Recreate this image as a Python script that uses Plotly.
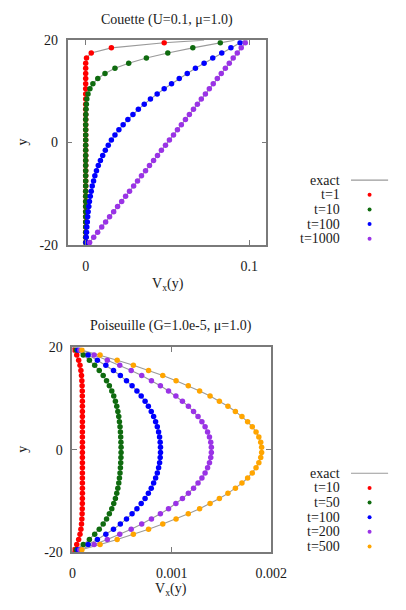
import plotly.graph_objects as go

# ---------------- data ----------------
y_nodes = [19.5, 18.5, 17.5, 16.5, 15.5, 14.5, 13.5, 12.5, 11.5, 10.5,
           9.5, 8.5, 7.5, 6.5, 5.5, 4.5, 3.5, 2.5, 1.5, 0.5,
           -0.5, -1.5, -2.5, -3.5, -4.5, -5.5, -6.5, -7.5, -8.5, -9.5,
           -10.5, -11.5, -12.5, -13.5, -14.5, -15.5, -16.5, -17.5, -18.5, -19.5]
y_walls = [20, -20]

# Couette (U=0.1, mu=1.0)
couette_labels = ["t=1", "t=10", "t=100", "t=1000"]
couette_t1 = [0.0480, 0.0157, 0.0034, 0.0005, 0.0, 0.0, 0.0, 0.0, 0.0, 0.0,
              0.0, 0.0, 0.0, 0.0, 0.0, 0.0, 0.0, 0.0, 0.0, 0.0,
              0.0, 0.0, 0.0, 0.0, 0.0, 0.0, 0.0, 0.0, 0.0, 0.0,
              0.0, 0.0, 0.0, 0.0, 0.0, 0.0, 0.0, 0.0, 0.0, 0.0]
couette_t10 = [0.0823, 0.0655, 0.0502, 0.0371, 0.0263, 0.0179, 0.0118, 0.0074, 0.0044, 0.0026,
               0.0014, 0.0007, 0.0004, 0.0002, 0.0001, 0.0, 0.0, 0.0, 0.0, 0.0,
               0.0, 0.0, 0.0, 0.0, 0.0, 0.0, 0.0, 0.0, 0.0, 0.0,
               0.0, 0.0, 0.0, 0.0, 0.0, 0.0, 0.0, 0.0, 0.0, 0.0]
couette_t100 = [0.0944, 0.0888, 0.0832, 0.0777, 0.0724, 0.0671, 0.0621, 0.0572, 0.0525, 0.0480,
                0.0437, 0.0396, 0.0358, 0.0322, 0.0289, 0.0258, 0.0229, 0.0203, 0.0179, 0.0157,
                0.0138, 0.0120, 0.0104, 0.0090, 0.0077, 0.0066, 0.0056, 0.0048, 0.0040, 0.0034,
                0.0028, 0.0023, 0.0019, 0.0015, 0.0012, 0.0010, 0.0007, 0.0005, 0.0003, 0.0002]
couette_t1000 = [0.0976, 0.0951, 0.0927, 0.0902, 0.0878, 0.0854, 0.0829, 0.0805, 0.0780, 0.0756,
                 0.0732, 0.0707, 0.0683, 0.0659, 0.0634, 0.0610, 0.0585, 0.0561, 0.0537, 0.0512,
                 0.0488, 0.0463, 0.0439, 0.0415, 0.0390, 0.0366, 0.0341, 0.0317, 0.0293, 0.0268,
                 0.0244, 0.0220, 0.0195, 0.0171, 0.0146, 0.0122, 0.0098, 0.0073, 0.0049, 0.0024]
couette_exact_top = [0.0724, 0.0911, 0.0972, 0.0988]      # exact value at y=20
couette_exact_bottom = [0.0, 0.0, 0.0001, 0.0012]         # exact value at y=-20

# Poiseuille (G=1.0e-5, mu=1.0)
pois_labels = ["t=10", "t=50", "t=100", "t=200", "t=500"]
pois_t10 = [1.66e-5, 4.32e-5, 6.25e-5, 7.60e-5, 8.51e-5, 9.11e-5, 9.48e-5, 9.73e-5, 9.86e-5, 9.93e-5,
            9.97e-5, 9.99e-5, 1.0e-4, 1.0e-4, 1.0e-4, 1.0e-4, 1.0e-4, 1.0e-4, 1.0e-4, 1.0e-4,
            1.0e-4, 1.0e-4, 1.0e-4, 1.0e-4, 1.0e-4, 1.0e-4, 1.0e-4, 1.0e-4, 9.99e-5, 9.97e-5,
            9.93e-5, 9.86e-5, 9.73e-5, 9.48e-5, 9.11e-5, 8.51e-5, 7.60e-5, 6.25e-5, 4.32e-5, 1.66e-5]
pois_t50 = [3.87e-5, 1.088e-4, 1.705e-4, 2.238e-4, 2.696e-4, 3.094e-4, 3.432e-4, 3.715e-4, 3.959e-4, 4.156e-4,
            4.323e-4, 4.460e-4, 4.569e-4, 4.662e-4, 4.730e-4, 4.788e-4, 4.827e-4, 4.857e-4, 4.879e-4, 4.893e-4,
            4.893e-4, 4.879e-4, 4.857e-4, 4.827e-4, 4.788e-4, 4.730e-4, 4.662e-4, 4.569e-4, 4.460e-4, 4.323e-4,
            4.156e-4, 3.959e-4, 3.715e-4, 3.432e-4, 3.094e-4, 2.696e-4, 2.238e-4, 1.705e-4, 1.088e-4, 3.87e-5]
pois_t100 = [5.5e-5, 1.58e-4, 2.51e-4, 3.36e-4, 4.13e-4, 4.82e-4, 5.44e-4, 6.00e-4, 6.49e-4, 6.92e-4,
             7.31e-4, 7.64e-4, 7.93e-4, 8.17e-4, 8.37e-4, 8.54e-4, 8.67e-4, 8.77e-4, 8.83e-4, 8.86e-4,
             8.86e-4, 8.83e-4, 8.77e-4, 8.67e-4, 8.54e-4, 8.37e-4, 8.17e-4, 7.93e-4, 7.64e-4, 7.31e-4,
             6.92e-4, 6.49e-4, 6.00e-4, 5.44e-4, 4.82e-4, 4.13e-4, 3.36e-4, 2.51e-4, 1.58e-4, 5.5e-5]
pois_t200 = [7.5e-5, 2.18e-4, 3.51e-4, 4.76e-4, 5.91e-4, 6.97e-4, 7.95e-4, 8.85e-4, 9.67e-4, 1.041e-3,
             1.107e-3, 1.167e-3, 1.219e-3, 1.264e-3, 1.303e-3, 1.335e-3, 1.360e-3, 1.379e-3, 1.392e-3, 1.398e-3,
             1.398e-3, 1.392e-3, 1.379e-3, 1.360e-3, 1.335e-3, 1.303e-3, 1.264e-3, 1.219e-3, 1.167e-3, 1.107e-3,
             1.041e-3, 9.67e-4, 8.85e-4, 7.95e-4, 6.97e-4, 5.91e-4, 4.76e-4, 3.51e-4, 2.18e-4, 7.5e-5]
pois_t500 = [9.5e-5, 2.78e-4, 4.50e-4, 6.13e-4, 7.66e-4, 9.09e-4, 1.043e-3, 1.166e-3, 1.280e-3, 1.385e-3,
             1.479e-3, 1.565e-3, 1.640e-3, 1.706e-3, 1.763e-3, 1.810e-3, 1.848e-3, 1.876e-3, 1.895e-3, 1.904e-3,
             1.904e-3, 1.895e-3, 1.876e-3, 1.848e-3, 1.810e-3, 1.763e-3, 1.706e-3, 1.640e-3, 1.565e-3, 1.479e-3,
             1.385e-3, 1.280e-3, 1.166e-3, 1.043e-3, 9.09e-4, 7.66e-4, 6.13e-4, 4.50e-4, 2.78e-4, 9.5e-5]
pois_exact_wall = [0.0, 0.0, 0.0, 0.0, 0.0]

couette_ticks_x = [0, 0.1]
couette_ticktext_x = ["0", "0.1"]
pois_ticks_x = [0, 0.001, 0.002]
pois_ticktext_x = ["0", "0.001", "0.002"]
ticks_y = [-20, 0, 20]
ticktext_y = ["-20", "0", "20"]

# ---------------- style ----------------
W, H = 406, 610
FONT = "Liberation Serif, Times New Roman, serif"
FS = 14
TXT = "#1a1a1a"
FRAME = "#7a7a7a"
EXACT = "#9a9a9a"
couette_colors = ["#ff0000", "#0f6b0f", "#0000ff", "#9a33e6"]
pois_colors = ["#ff0000", "#0f6b0f", "#0000ff", "#9a33e6", "#ffa500"]


def px(x):
    return x / W


def py(y):
    return 1 - y / H


fig = go.Figure()

# Couette
couette_series = [couette_t1, couette_t10, couette_t100, couette_t1000]
for i, s in enumerate(couette_series):
    fig.add_trace(go.Scatter(
        x=[couette_exact_top[i]] + s + [couette_exact_bottom[i]],
        y=[y_walls[0]] + y_nodes + [y_walls[1]],
        mode="lines", line=dict(color=EXACT, width=1.1),
        xaxis="x", yaxis="y", name="exact", hoverinfo="skip"))
for i, s in enumerate(couette_series):
    fig.add_trace(go.Scatter(
        x=s, y=y_nodes, mode="markers",
        marker=dict(color=couette_colors[i], size=5.5, line=dict(width=0)),
        xaxis="x", yaxis="y", name=couette_labels[i]))

# Poiseuille
pois_series = [pois_t10, pois_t50, pois_t100, pois_t200, pois_t500]
for i, s in enumerate(pois_series):
    fig.add_trace(go.Scatter(
        x=[pois_exact_wall[i]] + s + [pois_exact_wall[i]],
        y=[y_walls[0]] + y_nodes + [y_walls[1]],
        mode="lines", line=dict(color=EXACT, width=1.1),
        xaxis="x2", yaxis="y2", name="exact", hoverinfo="skip"))
for i, s in enumerate(pois_series):
    fig.add_trace(go.Scatter(
        x=s, y=y_nodes, mode="markers",
        marker=dict(color=pois_colors[i], size=5.5, line=dict(width=0)),
        xaxis="x2", yaxis="y2", name=pois_labels[i]))

axis_common = dict(
    showline=True, linecolor=FRAME, linewidth=1.6, mirror="allticks",
    ticks="inside", ticklen=5, tickwidth=1, tickcolor=FRAME,
    showgrid=False, zeroline=False,
    tickfont=dict(family=FONT, size=FS, color=TXT),
    fixedrange=True,
)

fig.update_layout(
    width=W, height=H,
    margin=dict(l=0, r=0, t=0, b=0),
    paper_bgcolor="white", plot_bgcolor="white",
    showlegend=False,
    xaxis=dict(axis_common, domain=[px(67), px(276)], range=[-0.011, 0.1105],
               tickvals=couette_ticks_x, ticktext=couette_ticktext_x, anchor="y",
               ticklabelstandoff=7),
    yaxis=dict(axis_common, domain=[py(244), py(34)], range=[-20, 20],
               tickvals=ticks_y, ticktext=ticktext_y, anchor="x",
               ticklabelstandoff=5),
    xaxis2=dict(axis_common, domain=[px(72), px(281)], range=[0, 0.002],
                tickvals=pois_ticks_x, ticktext=pois_ticktext_x, anchor="y2",
                ticklabelstandoff=7),
    yaxis2=dict(axis_common, domain=[py(559), py(349)], range=[-20, 20],
                tickvals=ticks_y, ticktext=ticktext_y, anchor="x2",
                ticklabelstandoff=5),
)

annotations = []
shapes = []


def text(x, y, s, anchor="center", angle=0):
    annotations.append(dict(
        x=px(x), y=py(y), xref="paper", yref="paper", text=s, showarrow=False,
        xanchor=anchor, yanchor="middle", textangle=angle,
        font=dict(family=FONT, size=FS, color=TXT)))


# titles and axis labels
text(171, 13, "Couette (U=0.1, \u03bc=1.0)")
text(173, 284, "V<sub>x</sub>(y)")
text(20, 139, "y", angle=-90)
text(176, 327, "Poiseuille (G=1.0e-5, \u03bc=1.0)")
text(176, 597, "V<sub>x</sub>(y)")
text(20, 454, "y", angle=-90)


def legend(y0, labels, colors):
    text(355, y0, "exact", anchor="right")
    shapes.append(dict(type="line", xref="paper", yref="paper",
                       x0=px(365), x1=px(404), y0=py(y0), y1=py(y0),
                       line=dict(color=EXACT, width=1.1)))
    for k, (lab, col) in enumerate(zip(labels, colors)):
        yy = y0 + 15 * (k + 1)
        text(355, yy, lab, anchor="right")
        shapes.append(dict(type="circle", xref="paper", yref="paper",
                           xsizemode="pixel", ysizemode="pixel",
                           xanchor=px(384.5), yanchor=py(yy),
                           x0=-2, x1=2, y0=-2, y1=2,
                           fillcolor=col, line=dict(width=0)))


legend(177.5, couette_labels, couette_colors)
legend(478, pois_labels, pois_colors)

fig.update_layout(annotations=annotations, shapes=shapes)

fig.write_html("out.html")
